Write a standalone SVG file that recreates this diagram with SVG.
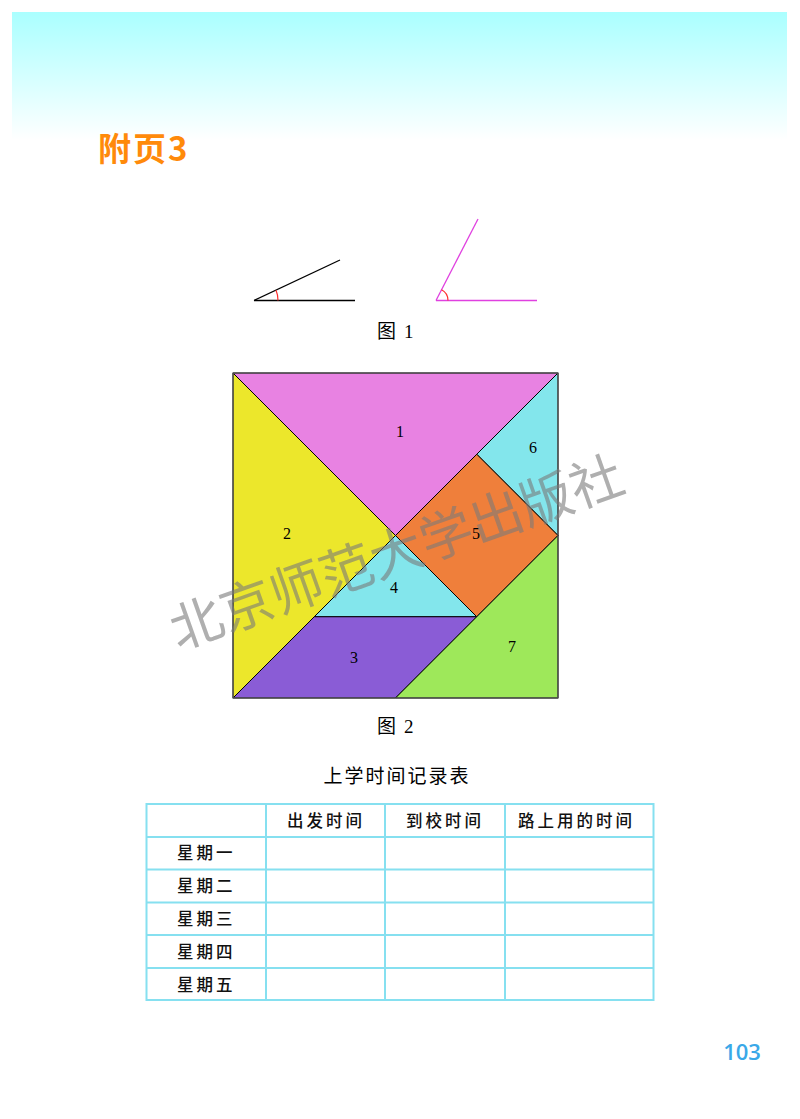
<svg xmlns="http://www.w3.org/2000/svg" width="800" height="1119" viewBox="0 0 800 1119">
<defs>
<linearGradient id="hdr" x1="0" y1="0" x2="0" y2="1">
<stop offset="0" stop-color="#aaffff"/>
<stop offset="0.5" stop-color="#d4ffff"/>
<stop offset="1" stop-color="#ffffff"/>
</linearGradient>
</defs>
<style>
.cap{font-family:"Liberation Serif","Noto Sans CJK SC",serif;font-size:19px;fill:#000}
.num{font-family:"Liberation Serif",serif;font-size:16px;fill:#000;text-anchor:middle}
.pc{stroke:#000;stroke-width:1;stroke-linejoin:round}
.tb{font-family:"Noto Sans CJK SC",sans-serif;font-size:16.5px;font-weight:500;fill:#111;letter-spacing:3px}
.grid{stroke:#86e0f0;stroke-width:2;fill:none}
</style>
<rect x="0" y="0" width="800" height="1119" fill="#fff"/>
<rect x="12" y="12" width="775" height="128" fill="url(#hdr)"/>
<text x="98" y="161" font-family="'Noto Sans CJK SC',sans-serif" font-weight="bold" font-size="33" letter-spacing="2" fill="#ff8a0a">附页3</text>

<g id="angle1">
<line x1="254" y1="300.5" x2="355" y2="300.5" stroke="#000" stroke-width="1.3"/>
<line x1="254" y1="300.5" x2="340" y2="260" stroke="#000" stroke-width="1.3"/>
<path d="M 276 290.3 A 24 24 0 0 1 278 300.5" fill="none" stroke="#ff3030" stroke-width="1.2"/>
</g>
<g id="angle2">
<line x1="436" y1="300.5" x2="537" y2="300.5" stroke="#e040e0" stroke-width="1.3"/>
<line x1="436" y1="300.5" x2="478" y2="219" stroke="#e040e0" stroke-width="1.3"/>
<path d="M 441.5 289.8 A 12 12 0 0 1 448 300.5" fill="none" stroke="#ff3030" stroke-width="1.2"/>
</g>
<text class="cap" y="338"><tspan x="377">图</tspan><tspan x="404">1</tspan></text>

<g id="tangram">
<g id="p1"><polygon class="pc" points="233,373 558,373 395.5,535.5" fill="#e882e2"/><text class="num" x="400" y="437">1</text></g>
<g id="p2"><polygon class="pc" points="233,373 395.5,535.5 233,698" fill="#ece72b"/><text class="num" x="287" y="539">2</text></g>
<g id="p6"><polygon class="pc" points="558,373 476.75,454.25 558,535.5" fill="#83e6ec"/><text class="num" x="533" y="453">6</text></g>
<g id="p5"><polygon class="pc" points="476.75,454.25 558,535.5 476.75,616.75 395.5,535.5" fill="#ef7f3b"/><text class="num" x="476" y="539">5</text></g>
<g id="p4"><polygon class="pc" points="395.5,535.5 476.75,616.75 314.25,616.75" fill="#83e6ec"/><text class="num" x="394" y="593">4</text></g>
<g id="p3"><polygon class="pc" points="314.25,616.75 476.75,616.75 395.5,698 233,698" fill="#8a5cd6"/><text class="num" x="354" y="663">3</text></g>
<g id="p7"><polygon class="pc" points="558,535.5 558,698 395.5,698" fill="#9ee85a"/><text class="num" x="512" y="652">7</text></g>
<rect x="233" y="373" width="325" height="325" fill="none" stroke="#555" stroke-width="1.2"/>
</g>
<text class="cap" y="733"><tspan x="377">图</tspan><tspan x="404">2</tspan></text>

<text x="178" y="650" transform="rotate(-19.5 178 650)" font-family="'Noto Sans CJK SC',sans-serif" font-size="53" fill="#7a7a7a" fill-opacity="0.6">北京师范大学出版社</text>

<text class="cap" x="397" y="783" font-size="17" letter-spacing="2" text-anchor="middle">上学时间记录表</text>
<g id="table">
<rect class="grid" x="146.5" y="804" width="507" height="196"/>
<line class="grid" x1="266" y1="804" x2="266" y2="1000"/>
<line class="grid" x1="385" y1="804" x2="385" y2="1000"/>
<line class="grid" x1="505" y1="804" x2="505" y2="1000"/>
<line class="grid" x1="146.5" y1="837" x2="653.5" y2="837"/>
<line class="grid" x1="146.5" y1="869.5" x2="653.5" y2="869.5"/>
<line class="grid" x1="146.5" y1="902.5" x2="653.5" y2="902.5"/>
<line class="grid" x1="146.5" y1="935" x2="653.5" y2="935"/>
<line class="grid" x1="146.5" y1="968" x2="653.5" y2="968"/>
<text class="tb" x="287" y="827">出发时间</text>
<text class="tb" x="406" y="827">到校时间</text>
<text class="tb" x="518" y="827">路上用的时间</text>
<text class="tb" x="177" y="859">星期一</text>
<text class="tb" x="177" y="892">星期二</text>
<text class="tb" x="177" y="925">星期三</text>
<text class="tb" x="177" y="958">星期四</text>
<text class="tb" x="177" y="991">星期五</text>
</g>
<text x="742" y="1060" text-anchor="middle" font-family="'Open Sans',sans-serif" font-weight="600" font-size="22" fill="#3aa8e8">103</text>
</svg>
